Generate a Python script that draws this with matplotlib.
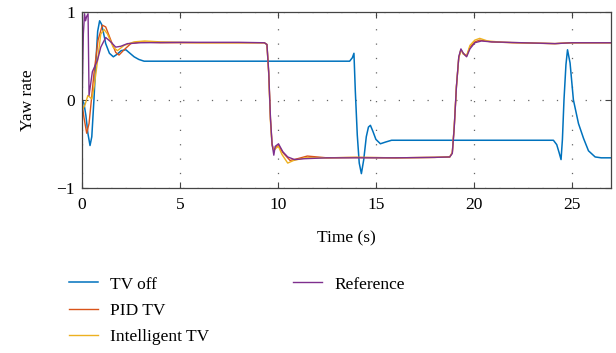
import matplotlib
matplotlib.use('Agg')
from matplotlib import pyplot as plt
from matplotlib.lines import Line2D

# yaw rate traces, read per series (time in s)
t_off = [0, 0.1, 0.2, 0.3, 0.41, 0.5, 0.61, 0.7, 0.8, 0.9, 1.0, 1.1, 1.21, 1.4, 1.6, 1.8, 2.0, 2.24, 2.45, 2.66,
         2.9, 3.17, 3.6, 5.0, 8.0, 11.0, 13.66, 13.8, 13.88, 13.95, 14.05, 14.15, 14.26, 14.38, 14.51, 14.62, 14.72,
         14.85, 15.0, 15.23, 15.5, 15.8, 16.5, 20.0, 24.06, 24.23, 24.35, 24.45, 24.52, 24.6, 24.7, 24.78, 24.91,
         25.08, 25.34, 25.6, 25.85, 26.19, 26.5, 27.0]
yaw_off = [0.0, -0.04, -0.18, -0.38, -0.52, -0.42, 0.0, 0.4, 0.78, 0.9, 0.86, 0.76, 0.64, 0.53, 0.49, 0.52, 0.56,
           0.57, 0.53, 0.49, 0.46, 0.44, 0.44, 0.44, 0.44, 0.44, 0.44, 0.48, 0.53, 0.1, -0.4, -0.72, -0.84, -0.68,
           -0.42, -0.31, -0.29, -0.36, -0.45, -0.50, -0.48, -0.46, -0.46, -0.46, -0.46, -0.51, -0.6, -0.68, -0.45,
           0.0, 0.4, 0.57, 0.42, 0.0, -0.27, -0.44, -0.58, -0.65, -0.66, -0.66]

t_pid = [0, 0.1, 0.24, 0.36, 0.48, 0.61, 0.82, 1.04, 1.21, 1.47, 1.72, 1.89, 2.15, 2.49, 3.0, 4.0, 6.0, 8.0, 9.3,
         9.44, 9.53, 9.62, 9.7, 9.79, 9.9, 10.03, 10.25, 10.62, 11.0, 11.5, 12.5, 14.0, 16.0, 18.0, 18.77, 18.9,
         19.0, 19.11, 19.23, 19.34, 19.46, 19.63, 19.8, 20.05, 20.3, 20.9, 22.0, 24.14, 25.0, 27.0]
yaw_pid = [-0.04, -0.2, -0.38, -0.27, 0.0, 0.3, 0.68, 0.85, 0.83, 0.68, 0.54, 0.51, 0.57, 0.64, 0.66, 0.65, 0.65,
           0.65, 0.65, 0.63, 0.3, -0.22, -0.5, -0.58, -0.54, -0.52, -0.6, -0.69, -0.67, -0.64, -0.66, -0.655,
           -0.66, -0.655, -0.65, -0.6, -0.3, 0.15, 0.48, 0.57, 0.53, 0.5, 0.6, 0.66, 0.68, 0.66, 0.65, 0.64, 0.65,
           0.65]

t_int = [0, 0.05, 0.15, 0.3, 0.5, 0.62, 0.75, 0.96, 1.13, 1.3, 1.59, 1.81, 2.15, 2.66, 3.2, 4.0, 6.0, 8.0, 9.3,
         9.44, 9.53, 9.62, 9.7, 9.79, 9.9, 10.03, 10.2, 10.5, 10.8, 11.4, 12.5, 14.0, 16.0, 18.0, 18.77, 18.9,
         19.0, 19.11, 19.23, 19.34, 19.46, 19.63, 19.8, 20.05, 20.3, 20.7, 21.5, 24.14, 25.0, 27.0]
yaw_int = [-0.04, -0.1, -0.06, 0.05, 0.01, 0.15, 0.37, 0.75, 0.80, 0.75, 0.6, 0.56, 0.62, 0.66, 0.67, 0.66, 0.65,
           0.65, 0.65, 0.63, 0.3, -0.25, -0.52, -0.57, -0.55, -0.53, -0.62, -0.72, -0.69, -0.66, -0.66, -0.655,
           -0.66, -0.655, -0.65, -0.6, -0.3, 0.15, 0.48, 0.57, 0.52, 0.5, 0.62, 0.68, 0.70, 0.67, 0.655, 0.64,
           0.65, 0.65]

t_ref = [0, 0.07, 0.13, 0.18, 0.24, 0.31, 0.36, 0.53, 0.79, 0.96, 1.21, 1.47, 1.72, 1.98, 2.32, 3.0, 5.0, 8.0,
         9.31, 9.44, 9.53, 9.62, 9.7, 9.79, 9.86, 10.03, 10.25, 10.5, 10.85, 11.36, 12.5, 14.0, 16.0, 18.0, 18.77,
         18.9, 19.0, 19.11, 19.23, 19.34, 19.46, 19.63, 19.8, 20.05, 20.39, 20.9, 22.5, 24.14, 25.0, 27.0]
yaw_ref = [-0.08, 0.75, 0.98, 0.9, 0.95, 0.98, 0.05, 0.32, 0.45, 0.6, 0.71, 0.66, 0.6, 0.61, 0.64, 0.65, 0.655,
           0.655, 0.65, 0.63, 0.32, -0.21, -0.5, -0.63, -0.53, -0.5, -0.59, -0.65, -0.68, -0.67, -0.66, -0.66,
           -0.66, -0.655, -0.65, -0.61, -0.31, 0.15, 0.49, 0.58, 0.53, 0.49, 0.58, 0.65, 0.67, 0.66, 0.65, 0.64,
           0.65, 0.65]

plt.rcParams['font.family'] = ['Liberation Serif', 'DejaVu Serif']
plt.rcParams['font.size'] = 12.5

fig = plt.figure(figsize=(6.16, 3.53), dpi=100)
ax = fig.add_axes([0.1331, 0.4683, 0.8588, 0.4977])

ax.plot(t_off, yaw_off, color='#0072BD', lw=1.1, label='TV off')
ax.plot(t_pid, yaw_pid, color='#D95319', lw=1.0, label='PID TV')
ax.plot(t_int, yaw_int, color='#EDB120', lw=1.0, label='Intelligent TV')
ax.plot(t_ref, yaw_ref, color='#7E2F8E', lw=1.0, label='Reference')

ax.set_xlim(0, 27)
ax.set_ylim(-1, 1)
ax.set_xticks([0, 5, 10, 15, 20, 25])
ax.set_yticks([-1, 0, 1])
ax.grid(True, color='#666666', linestyle=(0, (1, 10.5)), lw=0.9)
ax.tick_params(direction='in', length=4.3, width=0.8, color='#444444', top=True, right=True)
ax.tick_params(axis='x', pad=7)
ax.tick_params(axis='y', pad=5)
for s in ax.spines.values():
    s.set_color('#444444')
    s.set_linewidth(0.9)

ax.set_xlabel('Time (s)', labelpad=12)
ax.set_ylabel('Yaw rate', labelpad=15)

lines = ax.get_lines()
blank = Line2D([], [], color='none')
handles = [lines[0], lines[1], lines[2], lines[3], blank, blank]
labels = ['TV off', 'PID TV', 'Intelligent TV', 'Reference', '', '']
fig.legend(handles, labels, ncol=2, frameon=False, loc='upper left',
           bbox_to_anchor=(0.1115, 0.217), borderpad=0, borderaxespad=0,
           handlelength=1.7, handletextpad=0.7, columnspacing=4.8, labelspacing=0.57)

fig.savefig('out.png', dpi=100)
